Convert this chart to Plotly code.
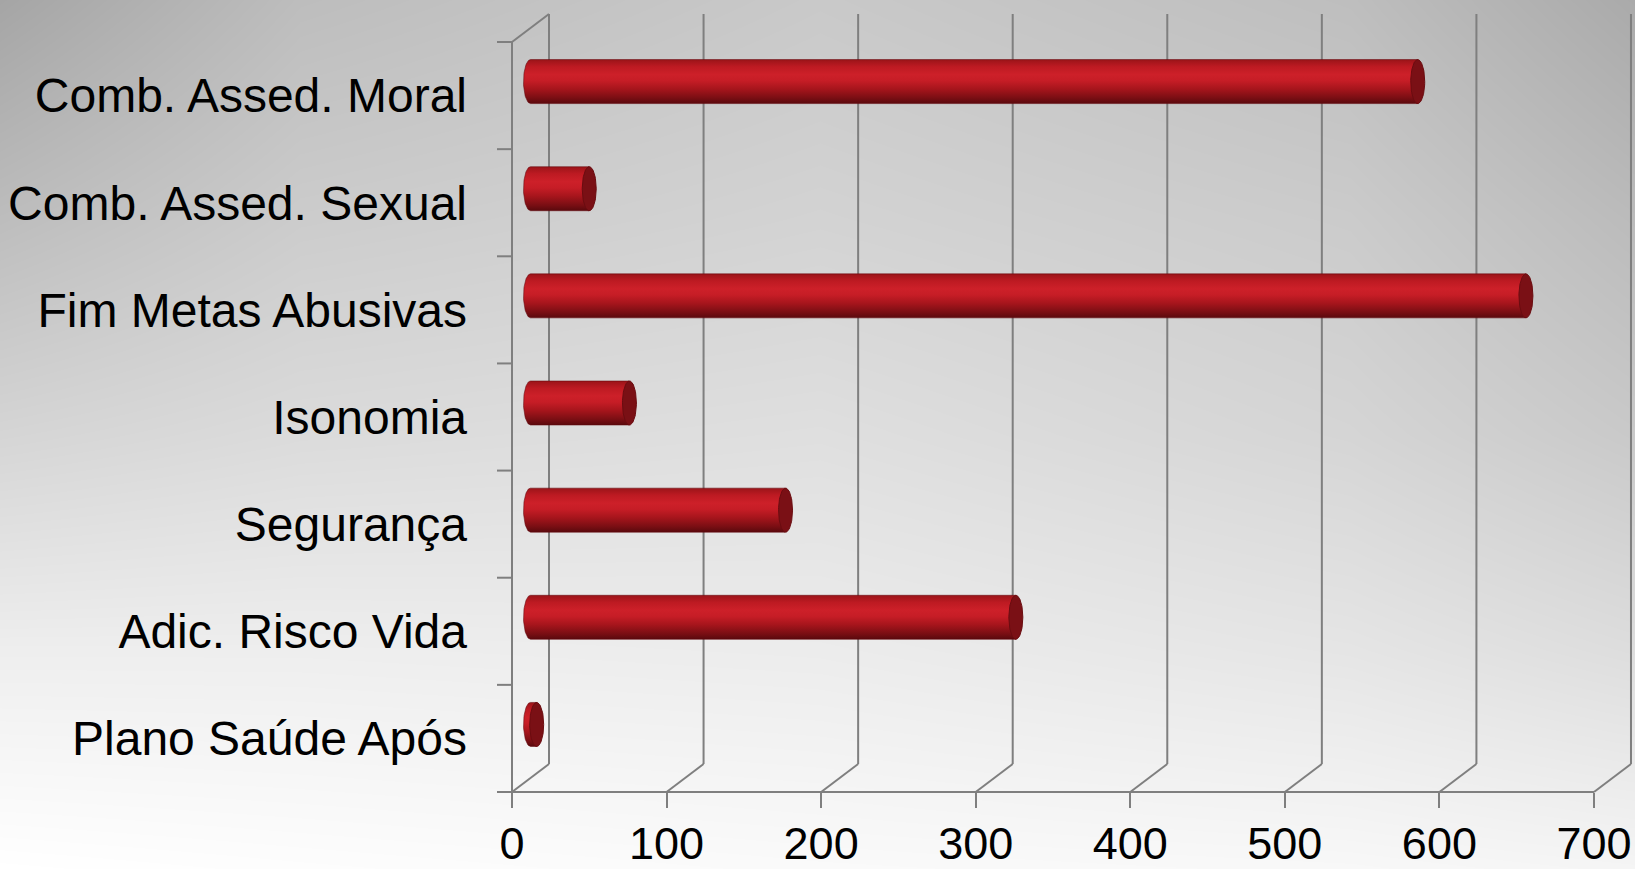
import numpy as np
import plotly.graph_objects as go

# ---------------- data ----------------
categories = ["Comb. Assed. Moral", "Comb. Assed. Sexual", "Fim Metas Abusivas",
              "Isonomia", "Segurança", "Adic. Risco Vida", "Plano Saúde Após"]
values = [574, 38, 644, 64, 165, 314, 4]
x_ticks = [0, 100, 200, 300, 400, 500, 600, 700]

# background gray samples, pixel grid
bg_x = [0, 300, 820, 1350, 1635]
bg_y_top = [0, 220, 435, 650, 869]
bg_gray = [
    [165, 189, 201, 190, 170],
    [189, 204, 211, 203, 187],
    [213, 219, 223, 213, 201],
    [238, 238, 236, 229, 221],
    [255, 253, 250, 248, 245],
]

# ---------------- geometry (pixels) ----------------
W, H = 1635, 869
LEFT_PX = 512        # front-left wall / value 0
BASE_PX = 792        # front floor line
PX_X = 1.5457        # pixels per value unit
PX_Y = 107.14        # pixels per category
DEPTH_X_PX, DEPTH_Y_PX = 37, 28
BAR_HALF_PX = 22
CAP_HALF_W_PX = 7
PLOT_L_PX = 480
PLOT_B_PX = 815

GRID = "#7f7f7f"
n = len(categories)
DX = DEPTH_X_PX / PX_X
DY = DEPTH_Y_PX / PX_Y
A = CAP_HALF_W_PX / PX_X
B = BAR_HALF_PX / PX_Y

x_lo = (PLOT_L_PX - LEFT_PX) / PX_X
x_hi = (W - LEFT_PX) / PX_X
y_lo = (BASE_PX - PLOT_B_PX) / PX_Y
y_hi = BASE_PX / PX_Y

fig = go.Figure()

# background gradient (subplot drawn first, underneath)
ys = [H - v for v in bg_y_top][::-1]
zs = bg_gray[::-1]
fig.add_trace(go.Heatmap(x=bg_x, y=ys, z=zs, zmin=0, zmax=255,
                         colorscale=[[0, "rgb(0,0,0)"], [1, "rgb(255,255,255)"]],
                         zsmooth="best", showscale=False, hoverinfo="skip",
                         xaxis="x", yaxis="y"))

# back wall gridlines, floor diagonals, front lines
gx, gy = [], []
for t in x_ticks:
    gx += [t + DX, t + DX, None, t, t + DX, None]
    gy += [DY, n + DY, None, 0, DY, None]
# left wall front edge + top diagonal
gx += [0, 0, None, 0, DX, None]
gy += [0, n, None, n, n + DY, None]
# front floor line (with left stub)
gx += [-15 / PX_X, x_ticks[-1], None]
gy += [0, 0, None]
# category tick stubs on the left wall
for k in range(n + 1):
    gx += [-15 / PX_X, 0, None]
    gy += [k, k, None]
fig.add_trace(go.Scatter(x=gx, y=gy, mode="lines", line=dict(color=GRID, width=2),
                         hoverinfo="skip", showlegend=False, xaxis="x2", yaxis="y2"))

body_scale = [[0.0, "#5a090d"], [0.12, "#780e13"], [0.33, "#a6151c"],
              [0.52, "#c61d26"], [0.66, "#cd2029"], [0.84, "#bd1a22"], [1.0, "#9b1419"]]

th_left = np.linspace(np.pi / 2, 3 * np.pi / 2, 40)
th_full = np.linspace(0, 2 * np.pi, 80)
for i, (cat, v) in enumerate(zip(categories, values)):
    k = n - 1 - i                      # position from bottom
    yc = k + 0.5 + DY / 2
    x0 = DX / 2
    x1 = DX / 2 + v
    bx = list(x0 + A * np.cos(th_left)) + [x1, x1, x0]
    by = list(yc + B * np.sin(th_left)) + [yc - B, yc + B, yc + B]
    fig.add_trace(go.Scatter(
        x=bx, y=by, mode="lines", fill="toself",
        line=dict(color="rgba(100,8,12,0.55)", width=1),
        fillgradient=dict(type="vertical", colorscale=body_scale,
                          start=yc - B, stop=yc + B),
        hovertemplate=f"{cat}: {v}<extra></extra>", showlegend=False,
        xaxis="x2", yaxis="y2"))
    cx = x1 + A * np.cos(th_full)
    cy = yc + B * np.sin(th_full)
    fig.add_trace(go.Scatter(
        x=cx, y=cy, mode="lines", fill="toself", fillcolor="#7a1015",
        line=dict(color="#6a0c10", width=1),
        hovertemplate=f"{cat}: {v}<extra></extra>", showlegend=False,
        xaxis="x2", yaxis="y2"))

font = "Liberation Sans, Arial, sans-serif"
fig.update_layout(
    width=W, height=H,
    margin=dict(l=0, r=0, t=0, b=0, pad=0, autoexpand=False),
    paper_bgcolor="white",
    plot_bgcolor="rgba(0,0,0,0)",
    showlegend=False,
    xaxis=dict(domain=[0, 1], range=[0, W], visible=False, fixedrange=True,
               automargin=False),
    yaxis=dict(domain=[0, 1], range=[0, H], visible=False, fixedrange=True,
               automargin=False),
    xaxis2=dict(domain=[PLOT_L_PX / W, 1], range=[x_lo, x_hi], anchor="free",
                position=(H - BASE_PX) / H, tickmode="array", tickvals=x_ticks,
                ticktext=[str(t) for t in x_ticks], ticks="outside", ticklen=15,
                tickwidth=2, tickcolor=GRID, showgrid=False, zeroline=False,
                showline=False, ticklabelstandoff=-3, automargin=False,
                tickfont=dict(family=font, size=45, color="black")),
    yaxis2=dict(domain=[(H - PLOT_B_PX) / H, 1], range=[y_lo, y_hi], anchor="free",
                position=LEFT_PX / W, tickmode="array",
                tickvals=[n - 1 - i + 0.5 for i in range(n)], ticktext=categories,
                ticks="", showgrid=False, zeroline=False, showline=False,
                ticklabelstandoff=45, automargin=False,
                tickfont=dict(family=font, size=48, color="black")),
)

post = (
    "document.documentElement.style.overflow='hidden';"
    "document.body.style.margin='0';document.body.style.padding='0';"
    "document.body.style.overflow='hidden';"
)
fig.write_html("out.html", config={"displayModeBar": False}, post_script=post)
